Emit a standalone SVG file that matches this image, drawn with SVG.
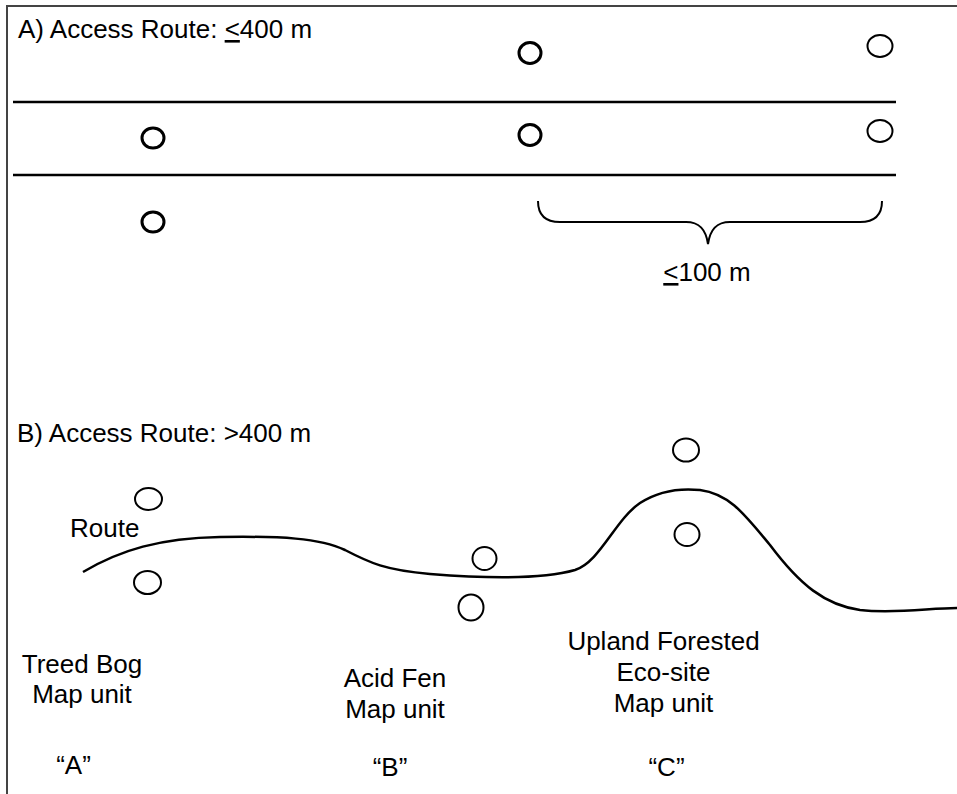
<svg xmlns="http://www.w3.org/2000/svg" width="957" height="794" viewBox="0 0 957 794">
<style>
  text { font-family: "Liberation Sans", Arial, sans-serif; font-size: 26px; fill: #000; }
  .mid { text-anchor: middle; }
  .u { text-decoration: underline; }
  .line { stroke: #000; stroke-width: 2.5; fill: none; }
  .thin { stroke: #000; stroke-width: 2; fill: none; }
  .bold { stroke: #000; stroke-width: 3; fill: none; }
  .plot { stroke: #000; stroke-width: 2; fill: none; }
  .frame { stroke: #444; stroke-width: 2; fill: none; }
</style>
<rect width="957" height="794" fill="#fff"/>
<path class="frame" d="M957,6 L7,6 L7,794"/>

<g id="panelA-title"><text x="18" y="38">A) Access Route: <tspan class="u">&lt;</tspan>400 m</text></g>

<g id="connectors">
  <line class="line" x1="13" y1="102" x2="896" y2="102"/>
  <line class="line" x1="13" y1="175" x2="896" y2="175"/>
  <path class="thin" d="M538,201 C538,215 545,222 560,222 L686,222 C700,222 706,230 708,244 C710,230 716,222 730,222 L860,222 C875,222 882,215 882,201"/>
  <path class="line" d="M83,572 C120,550 160,538 220,537 C280,536 320,538 345,550 C370,563 385,570 430,574 C480,578 540,580 575,570 C600,562 615,520 640,503 C660,490 680,488 700,490 C730,494 745,515 770,545 C800,585 825,605 860,610 C895,614 930,608 957,608"/>
</g>

<g id="brace-label"><text x="707" y="281" class="mid"><tspan class="u">&lt;</tspan>100 m</text></g>

<g id="plotsA">
  <ellipse class="bold" cx="153" cy="138" rx="11" ry="10"/>
  <ellipse class="bold" cx="153" cy="222" rx="11" ry="10"/>
  <ellipse class="bold" cx="530" cy="53" rx="11" ry="10.5"/>
  <ellipse class="bold" cx="530" cy="135" rx="11" ry="10.5"/>
  <ellipse class="plot" cx="880" cy="46" rx="12.5" ry="11"/>
  <ellipse class="plot" cx="880" cy="131" rx="12.5" ry="11"/>
</g>

<g id="panelB-title"><text x="17" y="442">B) Access Route: &gt;400 m</text></g>
<g id="route-label"><text x="70" y="537">Route</text></g>

<g id="plotsB">
  <ellipse class="plot" cx="148.5" cy="499" rx="13.5" ry="11"/>
  <ellipse class="plot" cx="147.5" cy="582.5" rx="13.5" ry="11.5"/>
  <ellipse class="plot" cx="484.5" cy="558.5" rx="12" ry="11.5"/>
  <ellipse class="plot" cx="471" cy="607.5" rx="12.5" ry="13"/>
  <ellipse class="plot" cx="686" cy="450" rx="13" ry="11.5"/>
  <ellipse class="plot" cx="687" cy="534.5" rx="12.5" ry="11.5"/>
</g>

<g id="unitA">
  <text x="82" y="673" class="mid">Treed Bog</text>
  <text x="82" y="703" class="mid">Map unit</text>
  <text x="73.5" y="774" class="mid">“A”</text>
</g>
<g id="unitB">
  <text x="395" y="687" class="mid">Acid Fen</text>
  <text x="395" y="718" class="mid">Map unit</text>
  <text x="390" y="776" class="mid">“B”</text>
</g>
<g id="unitC">
  <text x="663.5" y="650" class="mid">Upland Forested</text>
  <text x="663.5" y="681" class="mid">Eco-site</text>
  <text x="663.5" y="712" class="mid">Map unit</text>
  <text x="666.5" y="776" class="mid">“C”</text>
</g>
</svg>
